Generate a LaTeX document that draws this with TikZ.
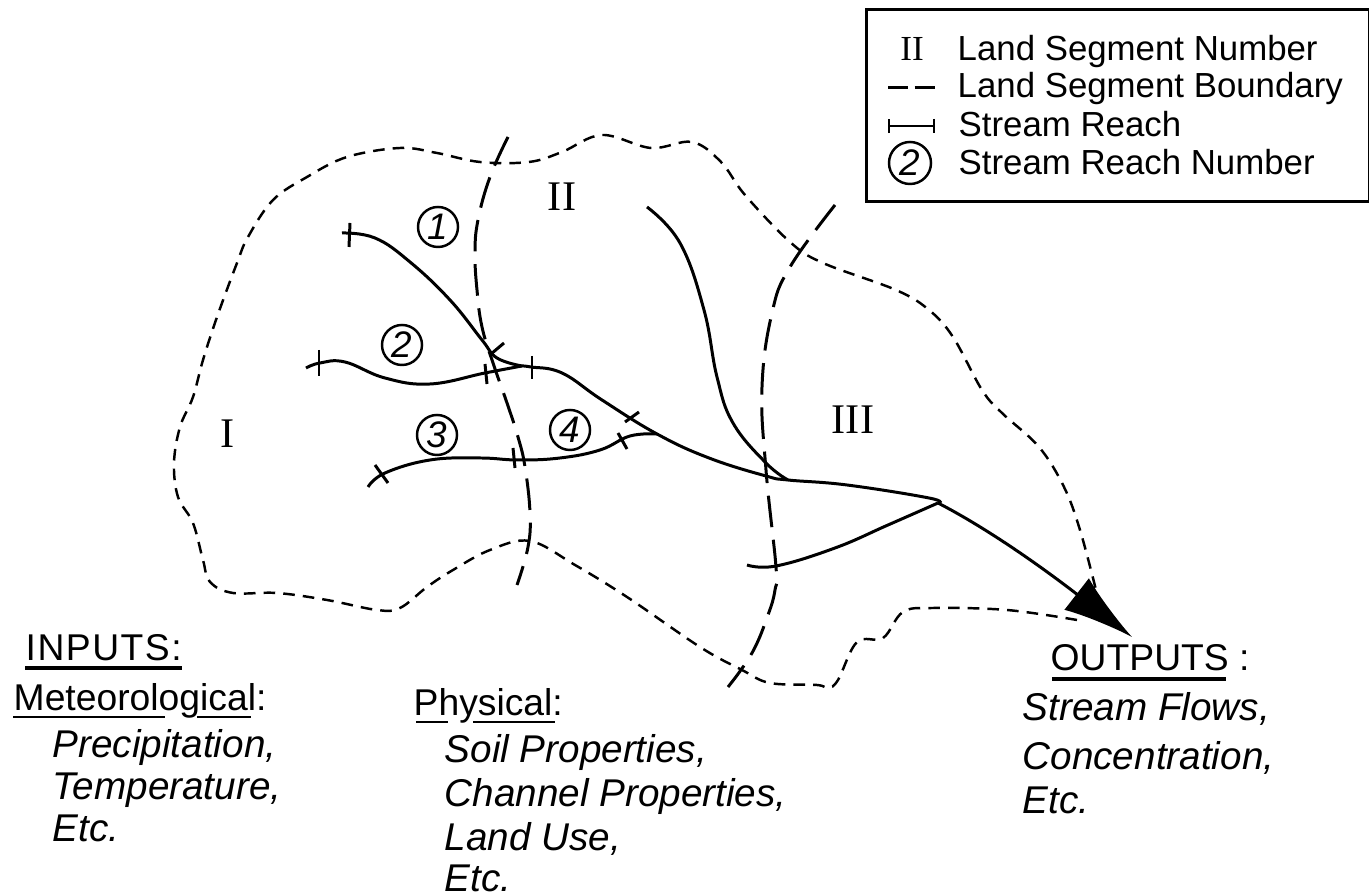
\documentclass[tikz,border=0pt]{standalone}
\usepackage{fontspec}
\setmainfont{Liberation Sans}
\newfontfamily\romanfont{Liberation Serif}
\usetikzlibrary{arrows.meta}
\begin{document}
\begin{tikzpicture}[
        x=0.01cm, y=-0.01cm,
        every node/.style={align=left, inner sep=0pt},
        headtext/.style={anchor=base west, font=\fontsize{10.6}{12}\selectfont},
        keytext/.style={anchor=base west, font=\fontsize{9.9}{12}\selectfont},
        inputtext/.style={anchor=base west, font=\fontsize{11}{13}\selectfont\itshape},
        segnum/.style={font=\fontsize{12}{14}\selectfont\romanfont},
        reachnum/.style={draw, circle, line width=0.7pt, minimum size=0.4cm, font=\fontsize{10.5}{12}\selectfont\itshape},
        stream/.style={line width=0.85pt},
        segline/.style={line width=0.85pt, dash pattern=on 9pt off 3.6pt},
        basinline/.style={line width=0.7pt, dash pattern=on 3.3pt off 2.3pt},
        underbar/.style={line width=0.8pt},
        thickbar/.style={line width=1.1pt}
    ]
        \useasboundingbox (0,0) rectangle (1369,895);

        % Basin outline
        \draw[basinline] plot[smooth, tension=0.6] coordinates {(1077,620) (1007,610) (933,608) (903,612) (883,638) (857,642) (838,680) (828,688) (817,685) (770,683) (742,670) (700,647) (627,597) (575,565) (530,541) (490,550) (453,570) (427,587) (400,608) (377,610) (327,600) (277,593) (233,593) (210,582) (203,560) (193,523) (178,497) (174,463) (180,427) (193,397) (203,360) (217,317) (237,263) (248,237) (273,200) (307,177) (347,157) (400,148) (437,153) (480,162) (529,162) (562,152) (602,135) (651,148) (692,142) (721,162) (745,195) (790,242) (823,263) (896,290) (929,310) (953,337) (982,390) (1002,413) (1039,447) (1064,487) (1080,530) (1096,590)};

        % Land segment boundaries
        \draw[segline] plot[smooth, tension=0.7] coordinates {(508,137) (490,177) (478,220) (475,253) (477,290) (482,327) (493,363) (507,403) (518,437) (525,467) (530,513) (528,547) (517,585)};
        \draw[segline] plot[smooth, tension=0.7] coordinates {(835,205) (790,267) (772,313) (762,387) (766,470) (776,567) (775,590) (768,615) (752,653) (728,687)};

        % Junctions
        \coordinate (junctionA) at (522,366);
        \coordinate (junctionB) at (657,434);
        \coordinate (junctionC) at (788,480);
        \coordinate (junctionD) at (938,503);
        \coordinate (outlet) at (1132,637);

        % Stream reaches
        \draw[stream] plot[smooth, tension=0.7] coordinates {(342,233) (375,238) (410,262) (450,300) (482,340) (497,358) (junctionA)};
        \draw[stream] plot[smooth, tension=0.7] coordinates {(306,368) (320,363) (345,362) (385,378) (430,384) (485,373) (junctionA)};
        \draw[stream] plot[smooth, tension=0.7] coordinates {(368,487) (385,473) (430,460) (480,458) (518,460) (560,458) (600,450) (630,436) (junctionB)};
        \draw[stream] plot[smooth, tension=0.7] coordinates {(junctionA) (531,367) (562,373) (602,400) (junctionB) (709,458) (766,476) (junctionC) (847,485) (929,498) (junctionD)};
        \draw[stream] plot[smooth, tension=0.7] coordinates {(647,207) (680,243) (704,310) (717,377) (733,423) (766,463) (junctionC)};
        \draw[stream] plot[smooth, tension=0.7] coordinates {(747,565) (776,566) (835,548) (888,525) (junctionD)};
        \draw[stream, -{Latex[length=0.7cm, width=0.4cm]}] (junctionD) .. controls (1000,535) and (1065,585) .. (outlet);

        % Ticks
        \draw[stream] (350,223) -- (349,247);
        \draw[stream] (319,350) -- (319,376);
        \draw[stream] (504,343) -- (491,354);
        \draw[stream] (485,364) -- (487,384);
        \draw[stream] (532,356) -- (532,379);
        \draw[stream] (625,422) -- (639,412);
        \draw[stream] (618,433) -- (627,449);
        \draw[stream] (513,448) -- (515,468);
        \draw[stream] (375,465) -- (388,483);

        % Numbers
        \node[segnum] (segI) at (228,434) {I};
        \node[segnum] (segII) at (562,197) {II};
        \node[segnum] (segIII) at (853,420) {III};
        \node[reachnum] (reachA) at (438,227) {1};
        \node[reachnum] (reachB) at (402,345) {2};
        \node[reachnum] (reachC) at (437,435) {3};
        \node[reachnum] (reachD) at (570,430) {4};

        % Legend
        \node[draw, line width=0.9pt, minimum width=5.03cm, minimum height=1.92cm, anchor=north west] (legendbox) at (865,8) {};
        \node[segnum, font=\fontsize{10}{12}\selectfont\romanfont] (keyseg) at (912,49) {II};
        \node[keytext] (keysegtext) at (957,61) {Land Segment Number};
        \coordinate (keydashA) at (888,88);
        \coordinate (keydashB) at (935,88);
        \draw[line width=0.85pt, dash pattern=on 5.8pt off 1.8pt] (keydashA) -- (keydashB);
        \node[keytext] (keydashtext) at (957,98) {Land Segment Boundary};
        \coordinate (keyreachA) at (888,126);
        \coordinate (keyreachB) at (935,126);
        \draw[line width=0.7pt, {Bar[width=4pt]}-{Bar[width=4pt]}] (keyreachA) -- (keyreachB);
        \node[keytext] (keyreachtext) at (958,137) {Stream Reach};
        \node[reachnum, minimum size=0.42cm] (keynum) at (910,163) {2};
        \node[keytext] (keynumtext) at (958,175) {Stream Reach Number};

        % Inputs
        \node[headtext, font=\fontsize{10.6}{12}\selectfont\addfontfeature{LetterSpace=4}] (inputs) at (25,661) {INPUTS:};
        \draw[thickbar] (25,668) -- (182,668);
        \node[headtext] (meteo) at (13,711) {Meteorological:};
        \draw[underbar] (13,717) -- (165,717);
        \draw[underbar] (197,717) -- (251,717);
        \node[inputtext] (metA) at (52,758) {Precipitation,};
        \node[inputtext] (metB) at (52,800) {Temperature,};
        \node[inputtext] (metC) at (52,842) {Etc.};
        \node[headtext] (physical) at (413,716) {Physical:};
        \draw[underbar] (416,722) -- (448,722);
        \draw[underbar] (473,722) -- (555,722);
        \node[inputtext] (phyA) at (444,763) {Soil Properties,};
        \node[inputtext] (phyB) at (444,807) {Channel Properties,};
        \node[inputtext] (phyC) at (444,851) {Land Use,};
        \node[inputtext] (phyD) at (444,892) {Etc.};

        % Outputs
        \node[headtext] (outputs) at (1050,671) {OUTPUTS :};
        \draw[thickbar] (1052,679) -- (1226,679);
        \node[inputtext] (outA) at (1022,721) {Stream Flows,};
        \node[inputtext] (outB) at (1022,770) {Concentration,};
        \node[inputtext] (outC) at (1022,814) {Etc.};
    \end{tikzpicture}
\end{document}
